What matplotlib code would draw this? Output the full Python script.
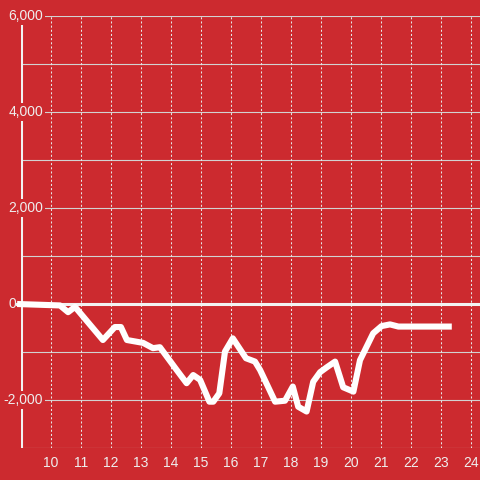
import matplotlib
matplotlib.use('Agg')
import matplotlib.pyplot as plt
import matplotlib.transforms as mtransforms

# data
months = [8.87, 10.3, 10.57, 10.8, 11.73, 12.13, 12.33, 12.53, 13.07, 13.4, 13.63,
          14.19, 14.52, 14.74, 14.97, 15.28, 15.41, 15.61, 15.8, 16.06, 16.5, 16.8,
          16.97, 17.47, 17.8, 18.06, 18.24, 18.52, 18.74, 18.97, 19.19, 19.47, 19.74,
          20.08, 20.3, 20.74, 21.02, 21.3, 21.58, 23.36]
values = [0, -30, -170, -60, -750, -480, -480, -750, -810, -920, -900,
          -1375, -1650, -1480, -1580, -2035, -2035, -1860, -990, -715, -1130, -1200,
          -1375, -2035, -2015, -1720, -2140, -2240, -1620, -1420, -1320, -1200, -1735,
          -1825, -1170, -610, -460, -425, -470, -470]
xticks = list(range(10, 25))
yticks = [-2000, 0, 2000, 4000, 6000]
ylabels = ['-2,000', '0', '2,000', '4,000', '6,000']

bg = '#CC2A2F'
txt = '#eeeeee'
plt.rcParams['font.family'] = ['Liberation Sans', 'DejaVu Sans']

fig = plt.figure(figsize=(4.8, 4.8), dpi=100, facecolor=bg)
ax = fig.add_axes([21/480, 32/480, 459/480, 432/480], facecolor=bg)
ax.set_xlim(9.0, 24.3)
ax.set_ylim(-3000, 6000)
for s in ax.spines.values():
    s.set_visible(False)

# horizontal grid every 1000
for v in range(-3000, 6001, 1000):
    if v != 0:
        ax.axhline(v, color='#d2d2d2', lw=0.8, zorder=1)

# vertical dotted grid
ax.set_xticks(xticks)
ax.set_yticks([])
ax.xaxis.grid(True, color='#e6e6e6', lw=0.75, ls=(0, (2, 2)), zorder=1)
ax.tick_params(axis='x', length=0, pad=6, labelsize=10, labelcolor=txt)

# left axis line
ax.axvline(9.0, color='#f2f2f2', lw=2.2, zorder=2)
# zero line
ax.plot([8.87, 24.3], [0, 0], color='#f2f2f2', lw=2.2, clip_on=False, zorder=3)

# series
ax.plot(months, values, color='white', lw=4.4, solid_joinstyle='round',
        solid_capstyle='butt', clip_on=False, zorder=4)

# y labels sitting over the axis line
trans = mtransforms.blended_transform_factory(ax.transAxes, ax.transData)
for v, lab in zip(yticks, ylabels):
    if v == 0:
        ax.text(-5/459, v, lab, transform=trans, ha='right', va='center',
                fontsize=10, color=txt, zorder=5, clip_on=False)
    else:
        ax.text(22/459, v, lab, transform=trans, ha='right', va='center',
                fontsize=10, color=txt, zorder=5, clip_on=False,
                bbox=dict(facecolor=bg, edgecolor='none', pad=1.5))

plt.savefig('out.png', dpi=100, facecolor=bg)
